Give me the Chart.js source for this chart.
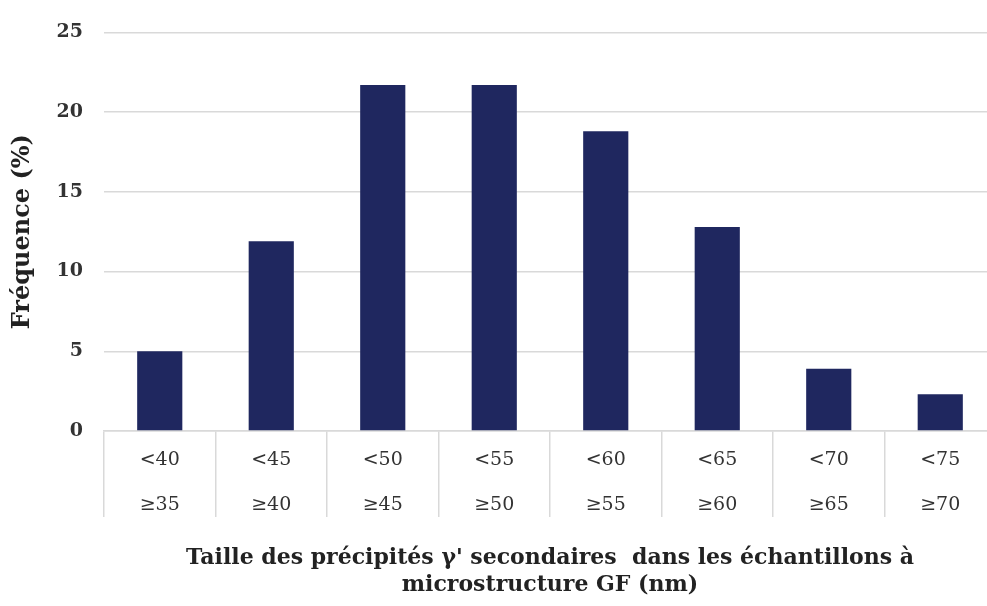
<!DOCTYPE html>
<html lang="fr">
<head>
<meta charset="utf-8">
<title>Taille des précipités γ' secondaires</title>
<script src="https://cdn.jsdelivr.net/npm/chart.js@4.4.1/dist/chart.umd.min.js"></script>
<style>
  html, body { margin: 0; padding: 0; background: #fff; overflow: hidden; }
  .chart-box { position: relative; width: 1000px; height: 606px; }
</style>
</head>
<body>
<div class="chart-box">
  <canvas id="myChart"></canvas>
</div>
<script>
// size classes (nm), two lines per label: upper bound / lower bound
const upperBounds = ['<40', '<45', '<50', '<55', '<60', '<65', '<70', '<75'];
const lowerBounds = ['≥35', '≥40', '≥45', '≥50', '≥55', '≥60', '≥65', '≥70'];
// frequency per class (%)
const frequency = [5.0, 11.9, 21.7, 21.7, 18.8, 12.8, 3.9, 2.3];
const yTicks = [0, 5, 10, 15, 20, 25];

const labels = upperBounds.map(function (u, i) { return [u, lowerBounds[i]]; });

const gridGrey = '#d9d9d9';
const textGrey = '#333333';

const ctx = document.getElementById('myChart').getContext('2d');

const chart = new Chart(ctx, {
  type: 'bar',
  data: {
    labels: labels,
    datasets: [{
      label: 'Fréquence',
      data: frequency,
      backgroundColor: '#1f275f',
      borderWidth: 0,
      categoryPercentage: 1,
      barPercentage: 0.405
    }]
  },
  options: {
    responsive: true,
    maintainAspectRatio: false,
    animation: false,
    layout: { padding: { top: 24, right: 4, bottom: 7.5, left: 0 } },
    plugins: {
      legend: { display: false },
      tooltip: { enabled: false }
    },
    scales: {
      x: {
        // table-like label area: boundary lines hang below the axis
        afterFit: function (scale) { scale.height = 167.5; },
        grid: {
          offset: true,
          drawOnChartArea: false,
          drawTicks: true,
          tickLength: 86,
          color: gridGrey,
          lineWidth: 1.5
        },
        border: { display: true, color: gridGrey, width: 1.5 },
        ticks: {
          padding: -79.5,
          color: textGrey,
          maxRotation: 0,
          autoSkip: false,
          font: { family: 'DejaVu Serif', size: 19, lineHeight: 45 / 19 }
        },
        title: {
          display: true,
          text: ["Taille des précipités γ' secondaires  dans les échantillons à", 'microstructure GF (nm)'],
          color: '#222222',
          padding: { top: 17, bottom: 0 },
          font: { family: 'DejaVu Serif', size: 22, weight: 'bold', lineHeight: 27 / 22 }
        }
      },
      y: {
        min: 0,
        max: 25,
        afterBuildTicks: function (scale) {
          scale.ticks = yTicks.map(function (v) { return { value: v }; });
        },
        afterFit: function (scale) { scale.width = 104; },
        grid: { drawTicks: false, color: gridGrey, lineWidth: 1.5 },
        border: { display: false },
        ticks: {
          padding: 21,
          color: textGrey,
          font: { family: 'DejaVu Serif', size: 19, weight: 'bold' }
        },
        title: {
          display: true,
          text: 'Fréquence (%)',
          color: '#222222',
          padding: { top: 8, bottom: 0 },
          font: { family: 'DejaVu Serif', size: 24, weight: 'bold', lineHeight: 1.2 }
        }
      }
    }
  }
});
</script>
</body>
</html>
